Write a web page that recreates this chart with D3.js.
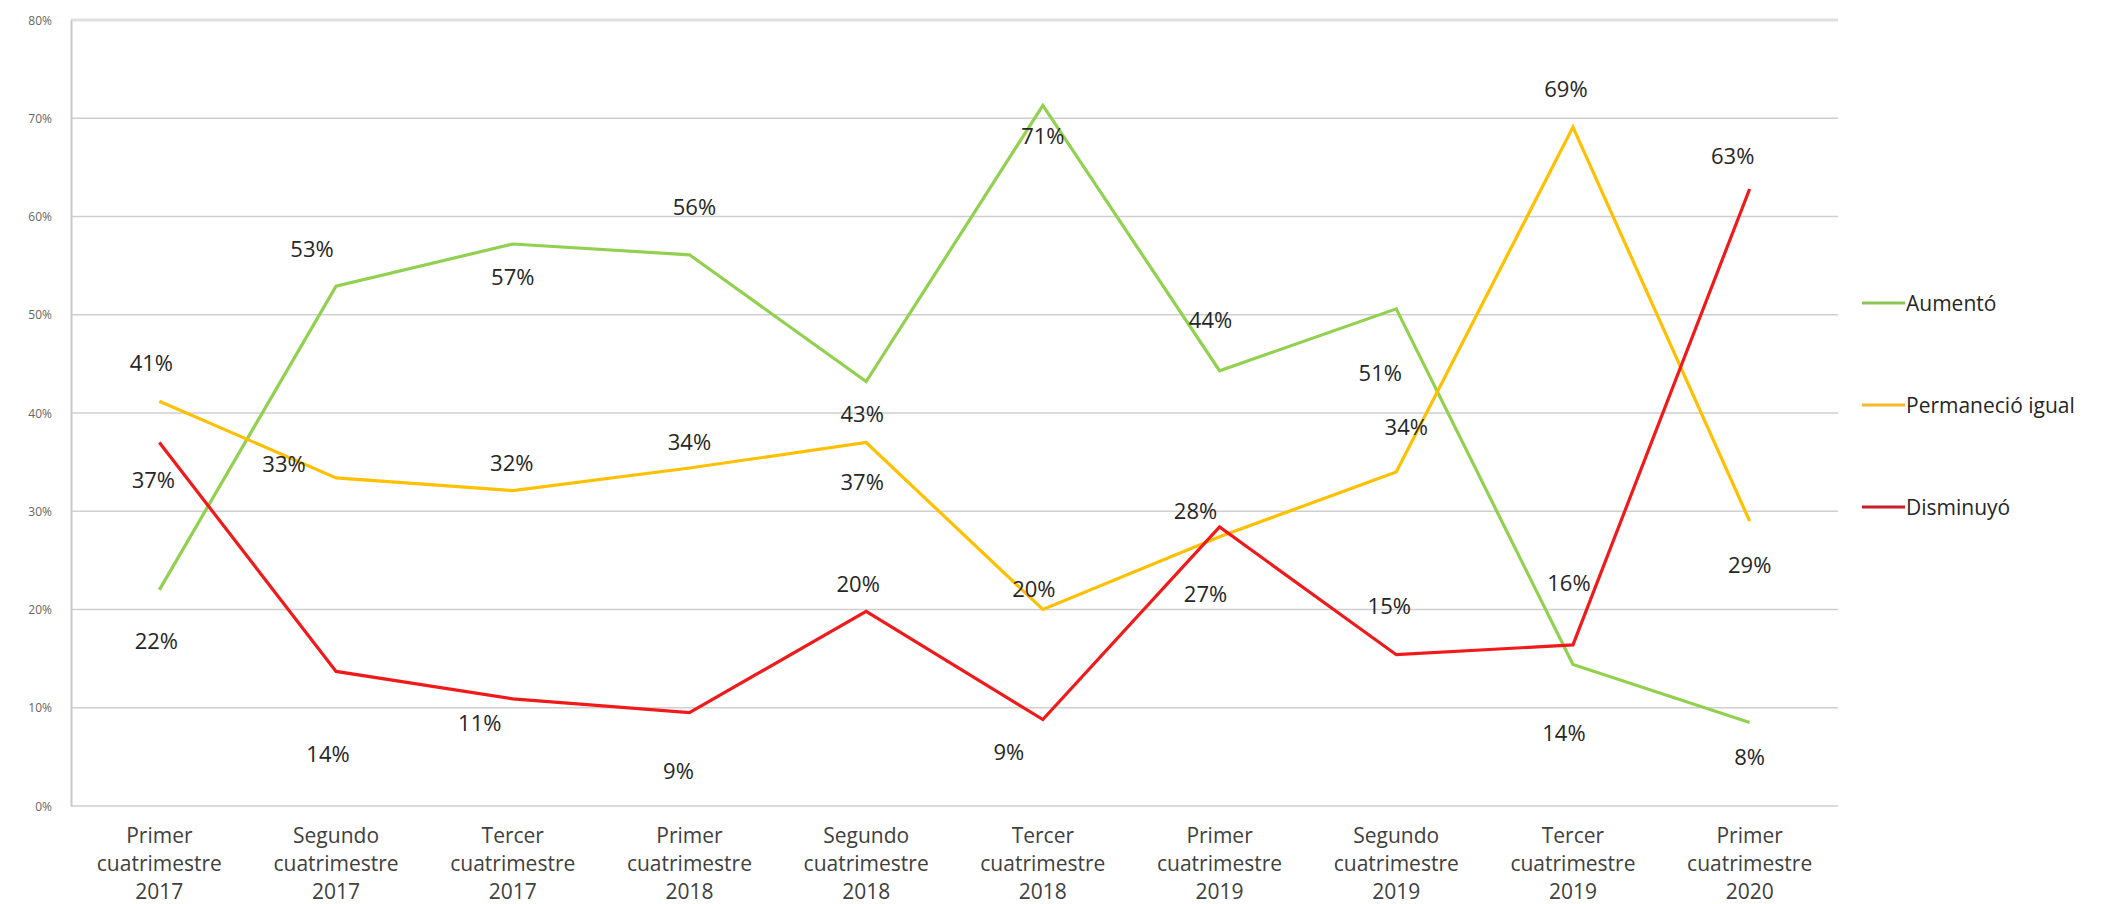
<!DOCTYPE html>
<html><head><meta charset="utf-8">
<script src="https://cdn.jsdelivr.net/npm/d3@7"></script>
<style>
html,body{margin:0;padding:0;background:#fff;}
svg text{font-family:"Open Sans","Noto Sans",sans-serif;}
</style></head>
<body><svg id="chart" width="2113" height="904"></svg>
<script>
const categories = [
  ["Primer","cuatrimestre","2017"],
  ["Segundo","cuatrimestre","2017"],
  ["Tercer","cuatrimestre","2017"],
  ["Primer","cuatrimestre","2018"],
  ["Segundo","cuatrimestre","2018"],
  ["Tercer","cuatrimestre","2018"],
  ["Primer","cuatrimestre","2019"],
  ["Segundo","cuatrimestre","2019"],
  ["Tercer","cuatrimestre","2019"],
  ["Primer","cuatrimestre","2020"]
];
const seriesNames = ["Aumentó","Permaneció igual","Disminuyó"];
const aumento     = [22.0, 52.9, 57.2, 56.1, 43.2, 71.3, 44.3, 50.6, 14.4, 8.5];
const permanecio  = [41.2, 33.4, 32.1, 34.4, 37.0, 20.0, 27.4, 34.0, 69.1, 29.0];
const disminuyo   = [37.0, 13.7, 10.9, 9.5, 19.8, 8.8, 28.4, 15.4, 16.4, 62.8];
const aumentoLabels    = ["22%","53%","57%","56%","43%","71%","44%","51%","14%","8%"];
const permanecioLabels = ["41%","33%","32%","34%","37%","20%","27%","34%","69%","29%"];
const disminuyoLabels  = ["37%","14%","11%","9%","20%","9%","28%","15%","16%","63%"];
const yTicks = [0,10,20,30,40,50,60,70,80];

// label nudges (layout, px)
const aumentoNudge    = [[-3,50],[-24,-38],[0,32],[5,-49],[-4,31],[0,30],[-9,-52],[-16,63],[-9,67],[0,34]];
const permanecioNudge = [[-8,-39],[-52,-15],[-1,-29],[0,-27],[-4,39],[-9,-22],[-14,56],[10,-46],[-7,-39],[0,43]];
const disminuyoNudge  = [[-6,37],[-8,82],[-33,23],[-11,57],[-8,-28],[-34,31],[-24,-17],[-7,-50],[-4,-63],[-17,-34]];

const colors = ["#92D050","#FFC000","#F01A1A"];
const legendColors = ["#8CC45A","#F5B82E","#C8202A"];

const series = [
  {name: seriesNames[0], values: aumento, labels: aumentoLabels, nudge: aumentoNudge, color: colors[0]},
  {name: seriesNames[1], values: permanecio, labels: permanecioLabels, nudge: permanecioNudge, color: colors[1]},
  {name: seriesNames[2], values: disminuyo, labels: disminuyoLabels, nudge: disminuyoNudge, color: colors[2]}
];

const svg = d3.select("#chart");
const mLeft = 71, mRight = 1838, mTop = 20, mBottom = 806;

const x = d3.scaleBand().domain(d3.range(categories.length)).range([mLeft, mRight]).paddingInner(0).paddingOuter(0);
const cx = i => x(i) + x.bandwidth()/2;
const y = d3.scaleLinear().domain([0,80]).range([mBottom, mTop]);

// gridlines
svg.append("g").selectAll("line").data(yTicks).join("line")
  .attr("x1", mLeft).attr("x2", mRight)
  .attr("y1", d => y(d)).attr("y2", d => y(d))
  .attr("stroke", d => d === 80 ? "#e0e0e0" : "#cfcfcf")
  .attr("stroke-width", d => d === 80 ? 3 : 1.5);

// y axis
const yAxis = d3.axisLeft(y).tickValues(yTicks).tickFormat(d => d + "%").tickSize(0).tickPadding(19);
const yg = svg.append("g").attr("transform", `translate(${mLeft},0)`).call(yAxis);
yg.select(".domain").attr("stroke", "#c8c8c8").attr("stroke-width", 2);
yg.selectAll("text").attr("font-size", 12).attr("fill", "#666").attr("dy", "0.35em");

// x labels
const xg = svg.append("g");
categories.forEach((c, i) => {
  const t = xg.append("text").attr("x", cx(i)).attr("text-anchor", "middle")
    .attr("font-size", 21).attr("fill", "#404040");
  c.forEach((line, j) => {
    t.append("tspan").attr("x", cx(i)).attr("y", 843 + j * 28).text(line);
  });
});

// lines
const lineGen = d3.line().x((d, i) => cx(i)).y(d => y(d));
series.forEach(s => {
  svg.append("path").datum(s.values)
    .attr("fill", "none").attr("stroke", s.color).attr("stroke-width", 3.2)
    .attr("stroke-linejoin", "miter")
    .attr("d", lineGen);
});

// data labels
series.forEach(s => {
  svg.append("g").selectAll("text").data(s.values).join("text")
    .attr("x", (d, i) => cx(i) + s.nudge[i][0])
    .attr("y", (d, i) => y(d) + s.nudge[i][1])
    .attr("text-anchor", "middle").attr("dominant-baseline", "central")
    .attr("font-size", 22).attr("fill", "#262626")
    .text((d, i) => s.labels[i]);
});

// legend
const lg = svg.append("g");
series.forEach((s, i) => {
  const ly = 303 + i * 102;
  lg.append("line").attr("x1", 1862).attr("x2", 1905).attr("y1", ly).attr("y2", ly)
    .attr("stroke", legendColors[i]).attr("stroke-width", 3);
  lg.append("text").attr("x", 1906).attr("y", ly).attr("dominant-baseline", "central")
    .attr("font-size", 21).attr("fill", "#262626").text(s.name);
});
</script></body></html>
